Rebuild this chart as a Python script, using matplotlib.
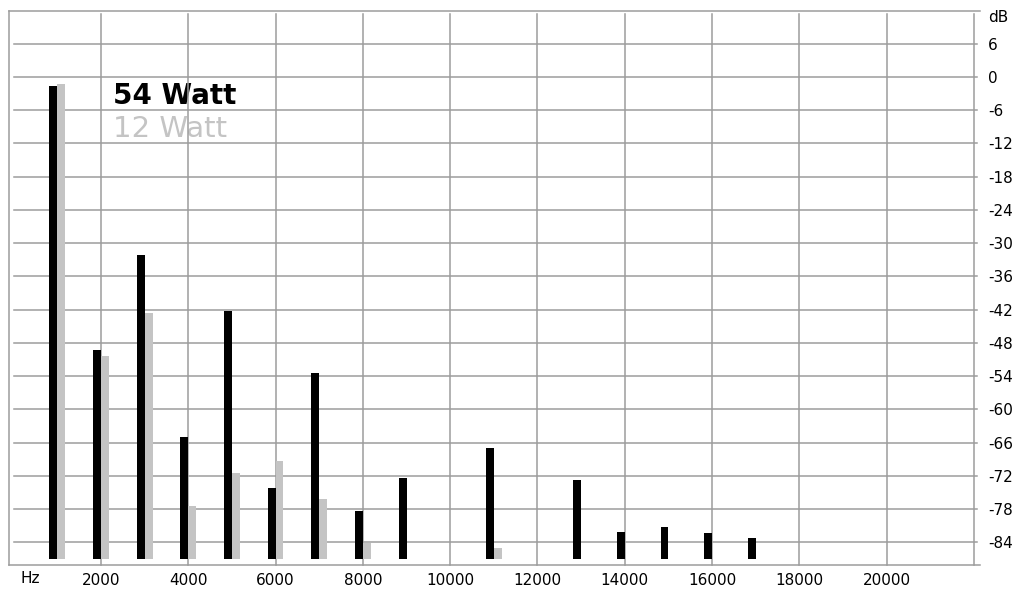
import numpy as np
import matplotlib
matplotlib.use("Agg")
import matplotlib.pyplot as plt

# ---- data ----
freqs = [1000, 2000, 3000, 4000, 5000, 6000, 7000, 8000, 9000, 10000,
         11000, 12000, 13000, 14000, 15000, 16000, 17000]
watt54 = [-1.7, -49.3, -32.2, -64.9, -42.2, -74.2, -53.4, -78.3, -72.4, np.nan,
          -66.9, np.nan, -72.7, -82.1, -81.3, -82.4, -83.2]
watt12 = [-1.3, -50.4, -42.6, -77.4, -71.4, -69.4, -76.1, -84.2, np.nan, np.nan,
          -85.0, np.nan, np.nan, np.nan, np.nan, np.nan, np.nan]
series_labels = ["54 Watt", "12 Watt"]
x_ticks = [2000, 4000, 6000, 8000, 10000, 12000, 14000, 16000, 18000, 20000]
y_ticks = [6, 0, -6, -12, -18, -24, -30, -36, -42, -48, -54, -60, -66, -72, -78, -84]

# ---- style ----
W, H = 1020, 590
FLOOR = -87.0
GRID = '#9c9c9c'
BLACK = '#000000'
LIGHT = '#c4c4c4'
FONT = 'DejaVu Sans'

fig = plt.figure(figsize=(W / 100, H / 100), dpi=100)
x0px, x1px = 13.7, 974.0
ytop, ybot = 10.5, 564.5
ax = fig.add_axes([x0px / W, (H - ybot) / H, (x1px - x0px) / W, (ybot - ytop) / H])
ax.set_xlim(0, 22000)
ax.set_ylim(-88, 12)
for s in ax.spines.values():
    s.set_visible(False)

lw = 1.1
# outer frame (top, bottom, left)
ax.plot([-108, 22135], [12, 12], color=GRID, lw=lw, clip_on=False, zorder=1)
ax.plot([-108, 22135], [-88, -88], color=GRID, lw=lw, clip_on=False, zorder=1)
ax.plot([-108, -108], [-88, 12], color=GRID, lw=lw, clip_on=False, zorder=1)
# vertical grid
for xv in list(range(2000, 22001, 2000)):
    ax.plot([xv, xv], [-88, 11.4], color=GRID, lw=lw, clip_on=False, zorder=1)
# horizontal grid
for yv in y_ticks:
    ax.plot([0, 22070], [yv, yv], color=GRID, lw=lw, clip_on=False, zorder=1)

f = np.array(freqs, dtype=float)
b = np.array(watt54, dtype=float)
g = np.array(watt12, dtype=float)
mb = ~np.isnan(b)
mg = ~np.isnan(g)
ax.bar(f[mb], b[mb] - FLOOR, bottom=FLOOR, width=-180, align='edge',
       color=BLACK, linewidth=0, zorder=3)
ax.bar(f[mg], g[mg] - FLOOR, bottom=FLOOR, width=180, align='edge',
       color=LIGHT, linewidth=0, zorder=3)

# legend texts
ax.text(2268, -4.9, series_labels[0], fontsize=20, fontweight='bold', color=BLACK,
        family=FONT, va='baseline', ha='left', zorder=0)
ax.text(2268, -10.9, series_labels[1], fontsize=21, color=LIGHT,
        family=FONT, va='baseline', ha='left', zorder=0)

# ticks
ax.set_xticks(x_ticks)
ax.set_xticklabels([str(v) for v in x_ticks], fontsize=11, family=FONT)
ax.tick_params(axis='x', length=0, pad=6)
ax.yaxis.tick_right()
ax.set_yticks(y_ticks)
ax.set_yticklabels([str(v) for v in y_ticks], fontsize=11, family=FONT)
ax.tick_params(axis='y', length=0, pad=10)
ax.text(370, -90.6, "Hz", fontsize=11, family=FONT, ha='center', va='center')
ax.text(22318, 10.8, "dB", fontsize=11, family=FONT, ha='left', va='center')

fig.savefig("out.png", dpi=100)
